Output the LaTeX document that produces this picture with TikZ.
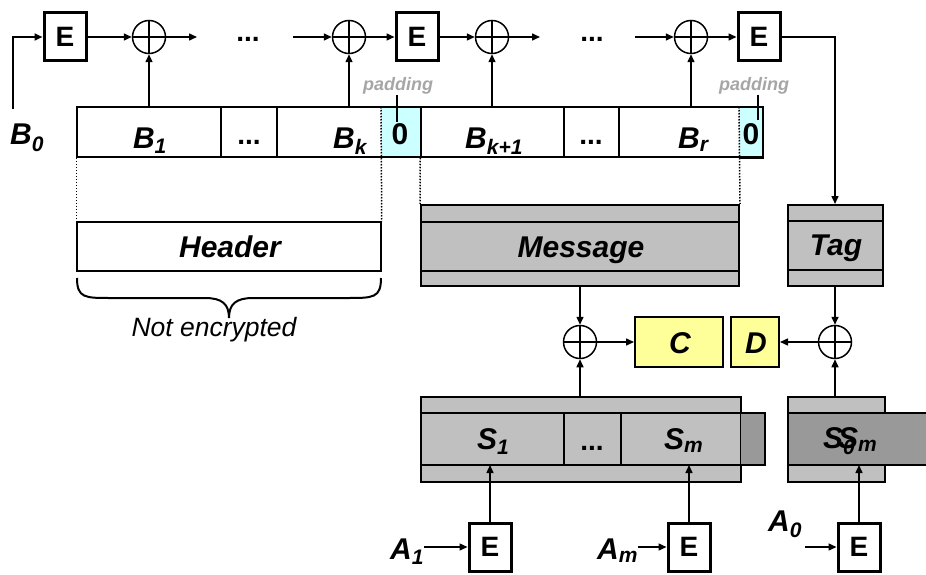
\documentclass[tikz,border=0pt]{standalone}
\usepackage{fontspec}
\setmainfont{Liberation Sans}
\usetikzlibrary{arrows.meta,calc}
\definecolor{cellcyan}{HTML}{CCFFFF}
\definecolor{outyellow}{HTML}{FFFF99}
\definecolor{lightgr}{HTML}{C0C0C0}
\definecolor{darkgr}{HTML}{999999}
\definecolor{padgr}{HTML}{A6A6A6}
\begin{document}
\begin{tikzpicture}[x=1pt,y=-1pt,
  conn/.style={line width=1.5pt},
  arr/.style={conn,-{Triangle[length=8pt,width=7pt]}},
  ebox/.style={draw,line width=3pt,minimum width=42pt,minimum height=48pt,inner sep=0pt,
    font=\fontsize{28}{30}\selectfont\bfseries},
  xor/.style={draw,circle,line width=1.5pt,minimum size=33pt,inner sep=0pt,
    path picture={\draw[line width=2.5pt]
      (path picture bounding box.north) -- (path picture bounding box.south)
      (path picture bounding box.west) -- (path picture bounding box.east);}},
  lbl/.style={font=\fontsize{30}{36}\selectfont\bfseries\itshape,inner sep=0pt},
  digit/.style={font=\fontsize{30}{36}\selectfont\bfseries,inner sep=0pt},
  dots/.style={font=\fontsize{28}{30}\selectfont\bfseries,inner sep=0pt},
  cell/.style={draw,line width=1.5pt,minimum height=50pt,inner sep=0pt},
  field/.style={draw,line width=2pt,inner sep=0pt},
  dotline/.style={line width=1.5pt,dash pattern=on 1.5pt off 1.5pt},
  padlbl/.style={font=\fontsize{18}{20}\selectfont\bfseries\itshape,text=padgr,inner sep=0pt},
]
\useasboundingbox (0,0) rectangle (926,575);
\fill[white] (0,0) rectangle (926,575);

% ---- CBC-MAC chain over the blocks
\node[ebox] (e1) at (65,37) {E};
\node[xor] (x1) at (149,37) {};
\node[dots,anchor=base] (t1) at (248,42) {...};
\coordinate (t1a) at (197,37);
\coordinate (t1b) at (293,37);
\node[xor] (x2) at (349,37) {};
\node[ebox] (e2) at (417,37) {E};
\node[xor] (x3) at (492,37) {};
\node[dots,anchor=base] (t2) at (592,42) {...};
\coordinate (t2a) at (540,37);
\coordinate (t2b) at (635,37);
\node[xor] (x4) at (691,37) {};
\node[ebox] (e3) at (759,37) {E};

\node[lbl,anchor=base west] (b0) at (10,145) {B\textsubscript{0}};
\coordinate (b0top) at (13,109);
\draw[line width=2.5pt,-{Triangle[length=8pt,width=7pt]}] (b0top) |- (e1.west);

\draw[arr] (e1) -- (x1);
\draw[arr] (x1) -- (t1a);
\draw[arr] (t1b) -- (x2);
\draw[arr] (x2) -- (e2);
\draw[arr] (e2) -- (x3);
\draw[arr] (x3) -- (t2a);
\draw[arr] (t2b) -- (x4);
\draw[arr] (x4) -- (e3);

% ---- formatted blocks
\node[cell,minimum width=144pt] (b1) at (149,132) {};
\node[cell,minimum width=56pt] (bd1) at (249,132) {};
\node[cell,minimum width=144pt] (bk) at (349,132) {};
\node[cell,minimum width=143pt] (bk1) at (492.5,132) {};
\node[cell,minimum width=55pt] (bd2) at (591.5,132) {};
\node[cell,minimum width=144pt] (br) at (691,132) {};

% zero padding cells
\fill[cellcyan] (381,107) rectangle (421,157);
\draw[line width=1.5pt] (381,107) -- (421,107) -- (421,157) -- (381,157);
\fill[cellcyan] (739,107) rectangle (763,157);
\draw[line width=1.5pt] (739,107) -- (763,107);
\draw[line width=2.5pt] (763,106.5) -- (763,157.5) -- (739,157.5);

\node[lbl,anchor=base] (lb1) at (150,148) {B\textsubscript{1}};
\node[dots,anchor=base] (lbd1) at (249,144) {...};
\node[lbl,anchor=base west] (lbk) at (333,148) {B\textsubscript{k}};
\node[digit,anchor=base] (z1) at (400,145) {0};
\node[lbl,anchor=base west] (lbk1) at (465,148) {B\textsubscript{k+1}};
\node[dots,anchor=base] (lbd2) at (591,144) {...};
\node[lbl,anchor=base west] (lbr) at (678,148) {B\textsubscript{r}};
\node[digit,anchor=base] (z2) at (751,145) {0};

\node[padlbl] (pad1) at (398,86) {padding};
\node[padlbl] (pad2) at (754,86) {padding};
\coordinate (pad1e) at (397,122);
\coordinate (pad2e) at (758,120);
\draw[conn] (pad1.south -| pad1e) -- (pad1e);
\draw[conn] (pad2.south -| pad2e) -- (pad2e);

\draw[arr] (b1.north) -- (x1.south);
\draw[arr] (bk.north) -- (x2.south);
\draw[arr] (x3 |- bk1.north) -- (x3.south);
\draw[arr] (br.north) -- (x4.south);

% ---- header, message and tag
\node[draw,line width=1.5pt,minimum width=304pt,minimum height=49pt,inner sep=0pt] (hdr) at (229,246.5) {};
\node[lbl,anchor=base] (lhdr) at (230,257) {Header};

\node[field,fill=lightgr,minimum width=318pt,minimum height=81pt] (msg) at (580,245.5) {};
\draw[line width=2pt] (421,222) -- (739,222) (421,271) -- (739,271);
\node[lbl,anchor=base] (lmsg) at (581,257) {Message};

\node[field,fill=lightgr,minimum width=95pt,minimum height=81pt] (tag) at (835,245.5) {};
\draw[line width=2pt] (787.5,221) -- (882.5,221) (787.5,270) -- (882.5,270);
\node[lbl,anchor=base] (ltag) at (836,255) {Tag};

\draw[dotline] (b1.south west) -- (hdr.north west);
\draw[dotline] (381,107) -- (hdr.north east);
\draw[dotline] (bk1.south west) -- (msg.north west);
\draw[dotline] (739,107) -- (msg.north east);

\draw[arr] (e3.east) -| (tag.north);

% brace under the header
\draw[line width=2pt] (77,278) .. controls (77,298) and (85,298) .. (110,298) -- (205,298)
  .. controls (222,298) and (229,304) .. (229,318)
  .. controls (229,304) and (236,298) .. (253,298) -- (348,298)
  .. controls (373,298) and (381,298) .. (381,278);
\node[font=\fontsize{26.5}{30}\selectfont\itshape,inner sep=0pt] (nenc) at (214,330) {Not encrypted};

% ---- encryption outputs
\node[xor] (x5) at (580,342) {};
\node[field,fill=outyellow,minimum width=88pt,minimum height=50pt] (cbox) at (679,342) {};
\node[lbl,anchor=base] (lc) at (680,353) {C};
\node[field,fill=outyellow,minimum width=48pt,minimum height=50pt] (dbox) at (755,342) {};
\node[lbl,anchor=base] (ld) at (756,353) {D};
\node[xor] (x6) at (835,342) {};

\draw[arr] (x5 |- msg.south) -- (x5.north);
\draw[arr] (x6 |- tag.south) -- (x6.north);
\draw[arr] (x5.east) -- (cbox.west);
\draw[arr] (x6.west) -- (dbox.east);

% ---- key stream blocks
\node[field,fill=lightgr,minimum width=320pt,minimum height=85pt] (sblk) at (581,439.5) {};
\fill[darkgr] (741,413) rectangle (765,465);
\draw[line width=2pt] (421,413) -- (765,413) -- (765,465) -- (421,465);
\draw[line width=2pt] (564,413) -- (564,465) (621,413) -- (621,465);
\node[lbl,anchor=base west] (ls1) at (477,449) {S\textsubscript{1}};
\node[dots,anchor=base] (lsd) at (592,450) {...};
\node[lbl,anchor=base west] (lsm) at (664,449) {S\textsubscript{m}};

\node[field,fill=lightgr,minimum width=97pt,minimum height=85pt] (s0blk) at (836.5,439.5) {};
\fill[darkgr] (788,413) rectangle (927,465);
\draw[line width=2pt] (928,413) -- (788,413) -- (788,465) -- (928,465);
\node[lbl,anchor=base west] (ls0) at (823,448) {S\textsubscript{0}};
\node[lbl,anchor=base west] (ls0m) at (838,448) {S\textsubscript{m}};

\coordinate (sband) at (0,465);
\draw[arr] (x5 |- sblk.north) -- (x5.south);
\draw[arr] (x6 |- s0blk.north) -- (x6.south);

% ---- counter encryptions
\node[ebox] (ea1) at (490,547) {E};
\node[ebox] (eam) at (689,547) {E};
\node[ebox] (ea0) at (859,547) {E};
\draw[arr] (ea1.north) -- (ea1.north |- sband);
\draw[arr] (eam.north) -- (eam.north |- sband);
\draw[arr] (ea0.north) -- (ea0.north |- sband);

\node[lbl,anchor=base west] (a1) at (390,559) {A\textsubscript{1}};
\node[lbl,anchor=base west] (am) at (597,559) {A\textsubscript{m}};
\node[lbl,anchor=base west] (a0) at (768,531) {A\textsubscript{0}};
\coordinate (a0s) at (805,547);
\draw[arr] (a1.east |- ea1.west) -- (ea1.west);
\draw[arr] (am.east |- eam.west) -- (eam.west);
\draw[arr] (a0s) -- (ea0.west);
\end{tikzpicture}
\end{document}
